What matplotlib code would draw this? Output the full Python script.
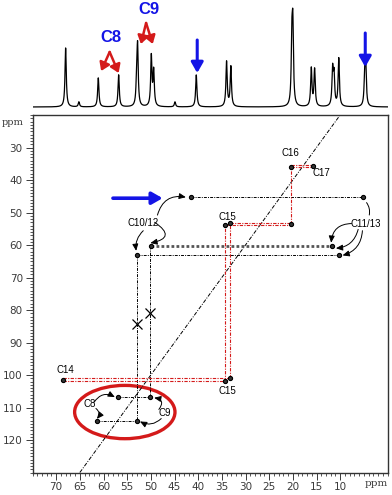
import numpy as np
import matplotlib
matplotlib.use("Agg")
import matplotlib.pyplot as plt
from matplotlib.patches import Ellipse
from matplotlib.ticker import MultipleLocator, FixedLocator

# ---------------- data ----------------
# 1D 13C spectrum: peak positions (ppm) and heights (arb.)
peak_ppm = [68.0, 65.2, 61.1, 56.8, 53.0, 52.8, 49.9, 49.4, 44.9, 40.4, 34.0, 33.1,
            20.2, 20.0, 16.1, 15.4, 11.6, 11.3, 10.3, 4.8, 4.6]
peak_height = [59, 5, 29, 32, 20, 58, 50, 35, 5, 32, 45, 40,
               60, 73, 38, 37, 36, 30, 48, 30, 37]

# spectrum annotations
spec_labels = ["C8", "C9"]
spec_label_ppm = [58.4, 50.3]
spec_label_val = [69, 98]
c8_apex = (58.7, 55)
c8_legs_ppm = [60.5, 56.8]
c8_legs_val = [36, 34]
c9_apex = (51.0, 84)
c9_legs_ppm = [52.1, 49.6]
c9_legs_val = [63, 63]
blue_down_ppm = [40.2, 4.7]
blue_down_from = [67, 74]
blue_down_to = [34, 40]

# 2D INADEQUATE cross peaks (ppm_x, ppm_y)
peaks_x = [41.5, 5.1, 50.0, 53.0, 11.8, 10.3, 56.9, 50.1, 61.3, 53.0,
           68.5, 34.3, 33.2, 34.3, 33.2, 20.4, 20.4, 15.7]
peaks_y = [45.3, 45.3, 60.4, 63.1, 60.4, 63.1, 106.9, 106.9, 114.3, 114.3,
           101.5, 101.8, 101.0, 53.9, 53.3, 53.6, 36.0, 35.6]

# black horizontal connectors: y, x_start, x_end
blk_h_y = [45.3, 63.1, 106.9, 114.3]
blk_h_x0 = [41.5, 53.0, 56.9, 61.3]
blk_h_x1 = [5.1, 10.3, 50.1, 53.0]
# grey (heavy dotted) horizontal connector
gry_h_y = [60.4]
gry_h_x0 = [50.0]
gry_h_x1 = [11.8]
# black vertical connectors: x, y_start, y_end
blk_v_x = [53.0, 50.1]
blk_v_y0 = [63.1, 60.4]
blk_v_y1 = [114.3, 106.9]
# red horizontal connectors
red_h_y = [101.0, 101.8, 53.3, 53.9, 35.5, 36.1]
red_h_x0 = [68.5, 68.5, 33.2, 34.3, 20.4, 20.4]
red_h_x1 = [33.2, 34.3, 20.4, 20.4, 15.7, 15.7]
# red vertical connectors
red_v_x = [34.3, 33.2, 20.4]
red_v_y0 = [101.8, 101.0, 53.6]
red_v_y1 = [53.9, 53.3, 36.0]

# X marks
xmark_x = [53.0, 50.1]
xmark_y = [84.4, 81.0]

# diagonal (double-quantum = 2 x single-quantum)
diag_x = [65.0, 10.0]

# labels in 2D
lab2d = ["C10/12", "C11/13", "C15", "C15", "C16", "C17", "C14", "C8", "C9"]
lab2d_x = [51.7, 4.7, 33.9, 33.9, 20.5, 14.0, 68.1, 63.0, 47.0]
lab2d_y = [53.2, 53.4, 51.4, 104.8, 31.8, 37.9, 98.6, 109.0, 111.7]

# curved annotation arrows: start(x,y) -> end(x,y), curvature
arr_x0 = [48.6, 51.6, 49.2, 7.6, 6.2, 5.3, 62.0, 61.6, 48.3, 47.8]
arr_y0 = [50.8, 55.6, 53.0, 53.4, 55.2, 55.6, 108.4, 110.3, 110.6, 113.4]
arr_x1 = [42.6, 53.1, 50.1, 11.9, 10.9, 9.5, 57.6, 61.4, 49.3, 52.3]
arr_y1 = [45.3, 61.8, 59.4, 59.3, 61.0, 63.2, 106.8, 113.5, 107.0, 114.3]
arr_rad = [-0.45, 0.25, -1.2, 0.45, -0.35, -0.35, -0.45, -0.5, 0.8, -0.35]

# tick values
xtick_vals = [70, 65, 60, 55, 50, 45, 40, 35, 30, 25, 20, 15, 10]
ytick_vals = [30, 40, 50, 60, 70, 80, 90, 100, 110, 120]

# red ellipse (ppm units)
ell_center = (55.5, 111.4)
ell_w, ell_h = 21.2, 16.4

BLUE = "#1414e6"
RED = "#d41a1a"
TICKC = "#3a3a3a"

# ---------------- figure ----------------
W, H = 392, 495
fig = plt.figure(figsize=(W / 100, H / 100), dpi=100)
left = 32.5 / W
width = 355 / W

# top 1D spectrum
ax1 = fig.add_axes([left, (H - 112) / H, width, 112 / H])
x = np.linspace(75, 0, 6000)
y = np.zeros_like(x)
for p, h in zip(peak_ppm, peak_height):
    y += h / (1 + ((x - p) / 0.16) ** 2)
ax1.plot(x, y, color="black", lw=0.9)
ax1.set_xlim(75, 0)
ax1.set_ylim(-5, 107)
ax1.axis("off")

for t, px, pv in zip(spec_labels, spec_label_ppm, spec_label_val):
    ax1.text(px, pv, t, color=BLUE, fontsize=12, fontweight="bold",
             family="Liberation Sans", ha="center", va="center")
for apex, lp, lv in [(c8_apex, c8_legs_ppm, c8_legs_val), (c9_apex, c9_legs_ppm, c9_legs_val)]:
    for xp, vp in zip(lp, lv):
        ax1.annotate("", xy=(xp, vp), xytext=apex,
                     arrowprops=dict(arrowstyle="-|>,head_length=0.6,head_width=0.4",
                                     color=RED, lw=1.8, shrinkA=0, shrinkB=0,
                                     mutation_scale=8))
for xp, v0, v1 in zip(blue_down_ppm, blue_down_from, blue_down_to):
    ax1.annotate("", xy=(xp, v1), xytext=(xp, v0),
                 arrowprops=dict(arrowstyle="-|>,head_length=0.7,head_width=0.4",
                                 color=BLUE, lw=2.2, shrinkA=0, shrinkB=0,
                                 mutation_scale=9))

# 2D INADEQUATE
ax = fig.add_axes([left, (H - 472.5) / H, width, (472.5 - 115) / H])
ax.set_xlim(75, 0)
ax.set_ylim(130, 20)

ax.plot(diag_x, [2 * v for v in diag_x], color="black", lw=0.7, ls=(0, (4, 1.5, 1, 1.5)))

dashdot = (0, (3, 1.2, 1, 1.2))
for yy, a, b in zip(blk_h_y, blk_h_x0, blk_h_x1):
    ax.plot([a, b], [yy, yy], color="black", lw=0.7, ls=dashdot)
for yy, a, b in zip(gry_h_y, gry_h_x0, gry_h_x1):
    ax.plot([a, b], [yy, yy], color="#555555", lw=2.0, ls=(0, (1, 0.8)))
for xx, a, b in zip(blk_v_x, blk_v_y0, blk_v_y1):
    ax.plot([xx, xx], [a, b], color="black", lw=0.7, ls=dashdot)
for yy, a, b in zip(red_h_y, red_h_x0, red_h_x1):
    ax.plot([a, b], [yy, yy], color=RED, lw=0.8, ls=dashdot)
for xx, a, b in zip(red_v_x, red_v_y0, red_v_y1):
    ax.plot([xx, xx], [a, b], color=RED, lw=0.8, ls=dashdot)

ax.plot(peaks_x, peaks_y, ls="none", marker="o", ms=3.0, mfc="#333333",
        mec="black", mew=0.8)
ax.plot(xmark_x, xmark_y, ls="none", marker="x", ms=7, mec="black", mew=0.9)

for t, xx, yy in zip(lab2d, lab2d_x, lab2d_y):
    ax.text(xx, yy, t, fontsize=7, family="Liberation Sans", ha="center",
            va="center", color="black")

for x0, y0, x1, y1, r in zip(arr_x0, arr_y0, arr_x1, arr_y1, arr_rad):
    ax.annotate("", xy=(x1, y1), xytext=(x0, y0),
                arrowprops=dict(arrowstyle="-|>,head_length=0.5,head_width=0.22",
                                color="black", lw=0.7, shrinkA=0, shrinkB=0,
                                mutation_scale=8,
                                connectionstyle=f"arc3,rad={r}"))
# line from right peak down to C11/13 label
ax.annotate("", xy=(4.0, 51.6), xytext=(4.8, 46.3),
            arrowprops=dict(arrowstyle="-", color="black", lw=0.7,
                            connectionstyle="arc3,rad=-0.3"))

# blue arrow in 2D
ax.annotate("", xy=(47.5, 45.6), xytext=(58.0, 45.6),
            arrowprops=dict(arrowstyle="-|>,head_length=0.7,head_width=0.4",
                            color=BLUE, lw=2.6, shrinkA=0, shrinkB=0,
                            mutation_scale=9))

ax.add_patch(Ellipse(ell_center, ell_w, ell_h, fill=False, ec=RED, lw=2.4))

# axes styling
for s in ax.spines.values():
    s.set_color("#333333")
    s.set_linewidth(1.0)
ax.xaxis.set_major_locator(FixedLocator(xtick_vals))
ax.yaxis.set_major_locator(FixedLocator(ytick_vals))
ax.xaxis.set_minor_locator(MultipleLocator(1))
ax.yaxis.set_minor_locator(MultipleLocator(1))
ax.tick_params(which="major", direction="out", length=5, width=0.7,
               colors=TICKC, labelsize=7.5, pad=2)
ax.tick_params(which="minor", direction="out", length=2.5, width=0.6, colors=TICKC)
ax.set_xticklabels([str(v) for v in xtick_vals])
ax.set_yticklabels([str(v) for v in ytick_vals])
ax.text(2.4, -0.018, "ppm", transform=ax.get_xaxis_transform(), ha="center",
        va="top", fontsize=7.5, family="DejaVu Serif", color=TICKC)
ax.text(-0.055, 22.4, "ppm", transform=ax.get_yaxis_transform(), ha="center",
        va="center", fontsize=7, family="DejaVu Serif", color=TICKC)

fig.savefig("out.png", dpi=100)
